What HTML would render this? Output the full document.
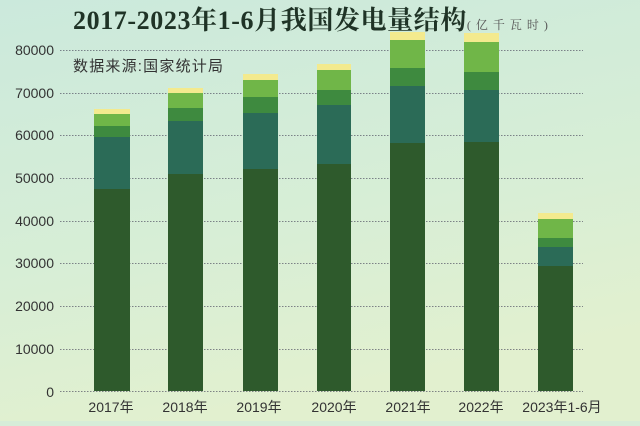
<!DOCTYPE html>
<html><head><meta charset="utf-8"><style>
html,body{margin:0;padding:0;}
body{width:640px;height:421px;overflow:hidden;background:#d6ecd8;}
</style></head><body>
<svg width="640" height="421" viewBox="0 0 640 421" xmlns="http://www.w3.org/2000/svg">
<defs>
<linearGradient id="bg" x1="0" y1="0" x2="0.3" y2="1">
<stop offset="0" stop-color="#cbe9dc"/>
<stop offset="0.6" stop-color="#d7eed6"/>
<stop offset="1" stop-color="#e2f0cf"/>
</linearGradient>
</defs>
<rect width="640" height="421" fill="url(#bg)"/>
<text x="73" y="29" font-family="'Liberation Serif','Noto Serif CJK SC',serif" font-weight="bold" font-size="26" letter-spacing="0.6" fill="#1f3326">2017-2023年1-6月我国发电量结构<tspan font-size="12" font-weight="normal" fill="#555" letter-spacing="5">(亿千瓦时)</tspan></text>
<text x="73" y="71" font-family="'Liberation Sans','Noto Sans CJK SC',sans-serif" font-size="15" letter-spacing="1.2" fill="#333">数据来源:国家统计局</text>
<g stroke="#556" stroke-width="1" stroke-dasharray="1.5,1.5" opacity="0.7">
<line x1="60" x2="583" y1="50.5" y2="50.5"/>
<line x1="60" x2="583" y1="93.5" y2="93.5"/>
<line x1="60" x2="583" y1="135.5" y2="135.5"/>
<line x1="60" x2="583" y1="178.5" y2="178.5"/>
<line x1="60" x2="583" y1="221.5" y2="221.5"/>
<line x1="60" x2="583" y1="263.5" y2="263.5"/>
<line x1="60" x2="583" y1="306.5" y2="306.5"/>
<line x1="60" x2="583" y1="349.5" y2="349.5"/>
<line x1="60" x2="583" y1="391.5" y2="391.5"/>
</g>
<g font-family="'Liberation Sans',sans-serif" font-size="14" fill="#333" text-anchor="end">
<text x="54" y="55">80000</text><text x="54" y="98">70000</text><text x="54" y="140">60000</text>
<text x="54" y="183">50000</text><text x="54" y="226">40000</text><text x="54" y="268">30000</text>
<text x="54" y="311">20000</text><text x="54" y="354">10000</text><text x="54" y="397">0</text>
</g>
<g id="bars">
<rect x="94" y="109" width="36" height="5" fill="#f3ea8e"/>
<rect x="94" y="114" width="36" height="12" fill="#70b648"/>
<rect x="94" y="126" width="36" height="11" fill="#3e8a3f"/>
<rect x="94" y="137" width="36" height="52" fill="#2b6b57"/>
<rect x="94" y="189" width="36" height="202" fill="#2e5a2c"/>

<rect x="168" y="88" width="35" height="5" fill="#f3ea8e"/>
<rect x="168" y="93" width="35" height="15" fill="#70b648"/>
<rect x="168" y="108" width="35" height="13" fill="#3e8a3f"/>
<rect x="168" y="121" width="35" height="53" fill="#2b6b57"/>
<rect x="168" y="174" width="35" height="217" fill="#2e5a2c"/>

<rect x="243" y="74" width="35" height="6" fill="#f3ea8e"/>
<rect x="243" y="80" width="35" height="17" fill="#70b648"/>
<rect x="243" y="97" width="35" height="16" fill="#3e8a3f"/>
<rect x="243" y="113" width="35" height="56" fill="#2b6b57"/>
<rect x="243" y="169" width="35" height="222" fill="#2e5a2c"/>

<rect x="317" y="64" width="34" height="6" fill="#f3ea8e"/>
<rect x="317" y="70" width="34" height="20" fill="#70b648"/>
<rect x="317" y="90" width="34" height="15" fill="#3e8a3f"/>
<rect x="317" y="105" width="34" height="59" fill="#2b6b57"/>
<rect x="317" y="164" width="34" height="227" fill="#2e5a2c"/>

<rect x="390" y="32" width="35" height="8" fill="#f3ea8e"/>
<rect x="390" y="40" width="35" height="28" fill="#70b648"/>
<rect x="390" y="68" width="35" height="18" fill="#3e8a3f"/>
<rect x="390" y="86" width="35" height="57" fill="#2b6b57"/>
<rect x="390" y="143" width="35" height="248" fill="#2e5a2c"/>

<rect x="464" y="33" width="35" height="9" fill="#f3ea8e"/>
<rect x="464" y="42" width="35" height="30" fill="#70b648"/>
<rect x="464" y="72" width="35" height="18" fill="#3e8a3f"/>
<rect x="464" y="90" width="35" height="52" fill="#2b6b57"/>
<rect x="464" y="142" width="35" height="249" fill="#2e5a2c"/>

<rect x="538" y="213" width="35" height="6" fill="#f3ea8e"/>
<rect x="538" y="219" width="35" height="19" fill="#70b648"/>
<rect x="538" y="238" width="35" height="9" fill="#3e8a3f"/>
<rect x="538" y="247" width="35" height="19" fill="#2b6b57"/>
<rect x="538" y="266" width="35" height="125" fill="#2e5a2c"/>
</g>
<g font-family="'Liberation Sans','Noto Sans CJK SC',sans-serif" font-size="14" fill="#333" text-anchor="middle">
<text x="111" y="412">2017年</text><text x="185" y="412">2018年</text><text x="259" y="412">2019年</text>
<text x="334" y="412">2020年</text><text x="408" y="412">2021年</text><text x="481" y="412">2022年</text>
<text x="562" y="412">2023年1-6月</text>
</g>
</svg>
</body></html>
